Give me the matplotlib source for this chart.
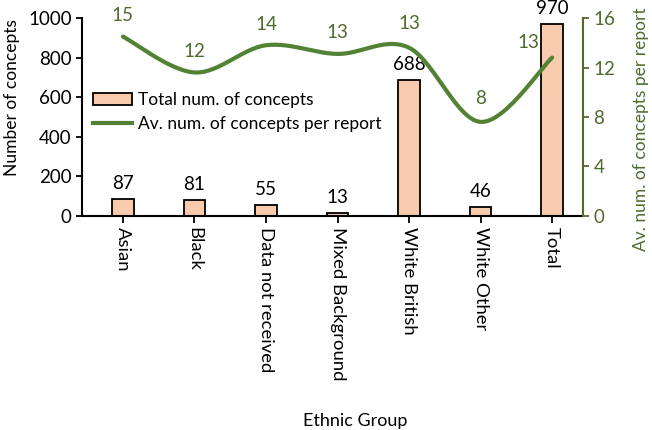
import numpy as np
import matplotlib
matplotlib.use("Agg")
import matplotlib.pyplot as plt
from matplotlib.lines import Line2D
from matplotlib.patches import Patch

plt.rcParams['font.family'] = ['Lato', 'DejaVu Sans']

# data
groups = ["Asian", "Black", "Data not received", "Mixed Background",
          "White British", "White Other", "Total"]
total_concepts = [87, 81, 55, 13, 688, 46, 970]
avg_concepts = [14.5, 11.6, 13.8, 13.1, 13.6, 7.6, 12.8]
avg_labels = ["15", "12", "14", "13", "13", "8", "13"]

bar_color = "#F8CBAD"
green = "#548235"
green_text = "#4F6B2E"


def smooth_curve(x, y, steps=30):
    # excel style smoothed line (catmull-rom through the points)
    x = np.asarray(x, float)
    y = np.asarray(y, float)
    px = np.concatenate([[x[0]], x, [x[-1]]])
    py = np.concatenate([[y[0]], y, [y[-1]]])
    xs, ys = [], []
    t = np.linspace(0, 1, steps)
    for i in range(1, len(px) - 2):
        p0 = np.array([px[i], py[i]])
        p3 = np.array([px[i + 1], py[i + 1]])
        c1 = p0 + (np.array([px[i + 1], py[i + 1]]) - np.array([px[i - 1], py[i - 1]])) / 6
        c2 = p3 - (np.array([px[i + 2], py[i + 2]]) - np.array([px[i], py[i]])) / 6
        pts = ((1 - t) ** 3)[:, None] * p0 + (3 * (1 - t) ** 2 * t)[:, None] * c1 \
            + (3 * (1 - t) * t ** 2)[:, None] * c2 + (t ** 3)[:, None] * p3
        xs.extend(pts[:, 0])
        ys.extend(pts[:, 1])
    return np.array(xs), np.array(ys)


fig = plt.figure(figsize=(6.52, 4.30), dpi=100)
ax = fig.add_axes([0.126, 0.498, 0.768, 0.46])
x = np.arange(len(groups))

ax.bar(x, total_concepts, width=0.3, color=bar_color, edgecolor="black", linewidth=1.3)
for xi, v in zip(x, total_concepts):
    ax.annotate(str(v), (xi, v), xytext=(0, 5), textcoords="offset points",
                ha="center", va="bottom", fontsize=13.5, color="black")

ax.set_xlim(-0.57, 6.43)
ax.set_ylim(0, 1000)
ax.set_yticks(range(0, 1001, 200))
ax.set_xticks(x)
ax.set_xticklabels(groups, rotation=-90, fontsize=13.3)
ax.tick_params(axis="y", labelsize=13.5, length=4, width=1.3)
ax.tick_params(axis="x", length=5, width=1.3, pad=3)
ax.set_ylabel("Number of concepts", fontsize=12.5)
ax.yaxis.set_label_coords(-0.124, 0.596)
ax.set_xlabel("Ethnic Group", fontsize=13)
ax.xaxis.set_label_coords(0.545, -0.995)
for s in ["top", "right"]:
    ax.spines[s].set_visible(False)
for s in ["left", "bottom"]:
    ax.spines[s].set_linewidth(1.5)

ax2 = ax.twinx()
sx, sy = smooth_curve(x, avg_concepts)
ax2.plot(sx, sy, color=green, linewidth=3, solid_capstyle="round")
offsets = [(0, 9), (0, 9), (0, 9), (0, 9), (0, 11), (0, 11), (-17, 5)]
for xi, v, lab, off in zip(x, avg_concepts, avg_labels, offsets):
    ax2.annotate(lab, (xi, v), xytext=off, textcoords="offset points",
                 ha="center", va="bottom", fontsize=13.5, color=green_text)
ax2.set_ylim(0, 16)
ax2.set_yticks(range(0, 17, 4))
ax2.tick_params(axis="y", labelsize=13.5, colors=green_text, length=4, width=1.3)
ax2.spines["right"].set_color(green_text)
ax2.spines["right"].set_linewidth(1.5)
for s in ["top", "left", "bottom"]:
    ax2.spines[s].set_visible(False)
ax2.set_ylabel("Av. num. of concepts per report", fontsize=12.5, color=green_text)
ax2.yaxis.set_label_coords(1.10, 0.44)

handles = [Patch(facecolor=bar_color, edgecolor="black", linewidth=1.3),
           Line2D([0], [0], color=green, linewidth=3)]
ax.legend(handles, ["Total num. of concepts", "Av. num. of concepts per report"],
          loc="upper left", bbox_to_anchor=(0.0, 0.68), frameon=False, fontsize=12.5,
          handlelength=2.3, handletextpad=0.3, labelspacing=0.45, borderaxespad=0.2)

fig.savefig("out.png", dpi=100)
